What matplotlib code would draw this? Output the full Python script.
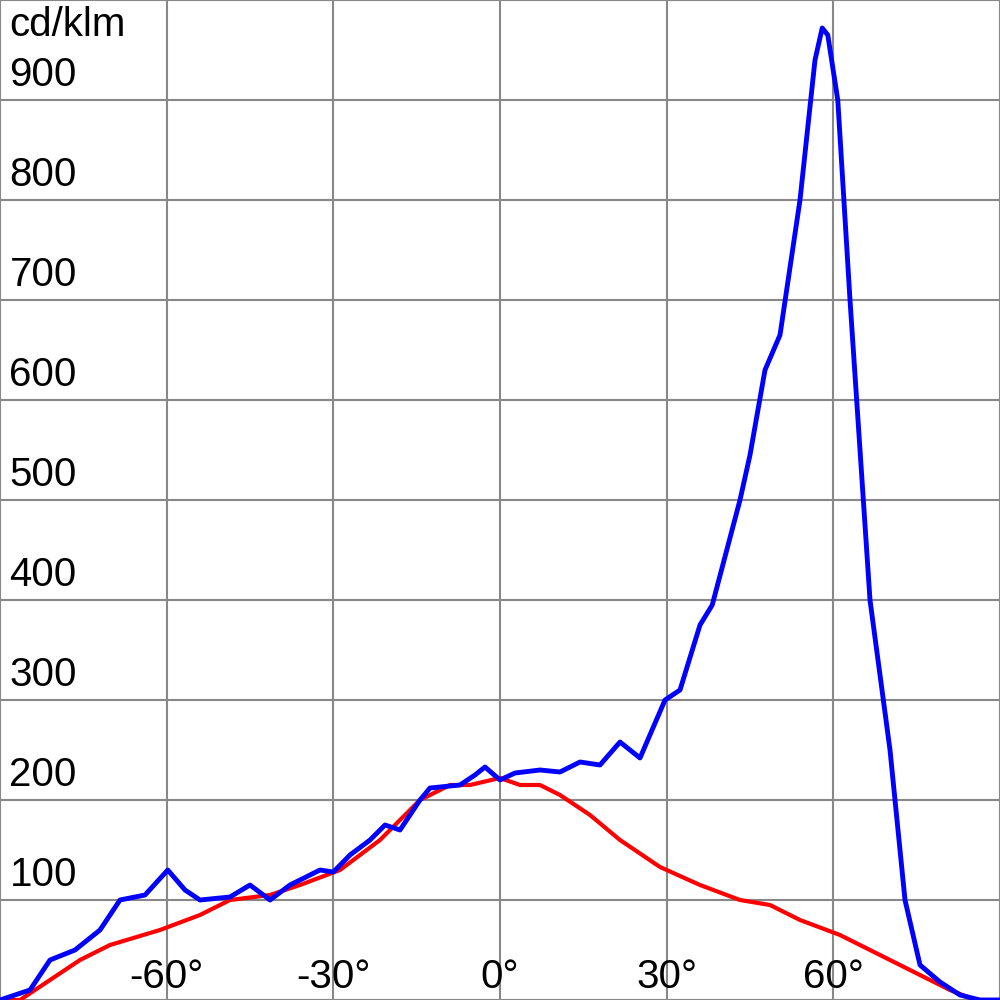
import numpy as np
import matplotlib.pyplot as plt

plt.rcParams['font.family'] = ['Liberation Sans', 'DejaVu Sans']

# luminous intensity curves, cd/klm vs angle
blue_deg = [-90, -84.6, -81, -76.5, -72, -68.4, -63.9, -59.8, -56.7, -54, -48.6, -45, -41.4,
            -37.8, -32.4, -30, -27, -23.4, -20.7, -18, -14.4, -12.6, -7.2, -4.5, -2.7, 0, 2.7,
            7.2, 10.8, 14.4, 18, 21.6, 25.2, 29.7, 32.4, 36, 38.2, 43.2, 45, 47.7, 50.4, 54,
            56.7, 58, 59, 60.8, 63, 66.6, 70.2, 72.9, 75.6, 79.2, 82.8, 86.4, 90]
blue_val = [0, 10, 40, 50, 70, 100, 105, 130, 110, 100, 103, 115, 100,
            115, 130, 128, 145, 160, 175, 170, 200, 212, 215, 225, 233, 220, 227,
            230, 228, 238, 235, 258, 242, 300, 310, 375, 395, 500, 545, 630, 665, 800,
            940, 972, 965, 900, 700, 400, 250, 100, 35, 18, 5, 0, 0]
red_deg = [-90, -86.4, -81, -75.6, -70.2, -61.2, -54, -48.6, -41.4, -36, -28.8, -21.6, -14.4,
           -9, -5.4, 0, 3.6, 7.2, 10.8, 16.2, 21.6, 28.8, 36, 43.2, 48.6, 54, 61.2, 68.4,
           75.6, 81, 85.5, 90]
red_val = [0, 0, 20, 40, 55, 70, 85, 100, 105, 115, 130, 160, 200,
           215, 215, 222, 215, 215, 205, 185, 160, 133, 115, 100, 95, 80, 65, 45,
           25, 10, 0, 0]
x_ticks = [-60, -30, 0, 30, 60]
y_ticks = [100, 200, 300, 400, 500, 600, 700, 800, 900]

fig = plt.figure(figsize=(10, 10), dpi=100)
ax = fig.add_axes([0, 0, 1, 1])
ax.set_xlim(-90, 90)
ax.set_ylim(0, 1000)
for x in np.arange(-90, 91, 30):
    ax.axvline(x, color='#888888', lw=1.5, zorder=0)
for y in np.arange(0, 1001, 100):
    ax.axhline(y, color='#888888', lw=1.5, zorder=0)
ax.set_xticks([])
ax.set_yticks([])
for s in ax.spines.values():
    s.set_visible(False)

ax.plot(red_deg, red_val, color='#ff0000', lw=3, solid_joinstyle='round')
ax.plot(blue_deg, blue_val, color='#0000ff', lw=3.5, solid_joinstyle='round')

for t in x_ticks:
    ax.text(t, 4, f"{t}°", ha='center', va='bottom', fontsize=29)
for t in y_ticks:
    ax.text(-88.3, t + 6, str(t), ha='left', va='bottom', fontsize=29)
ax.text(-88.3, 994, "cd/klm", ha='left', va='top', fontsize=29)

fig.savefig("out.png")
